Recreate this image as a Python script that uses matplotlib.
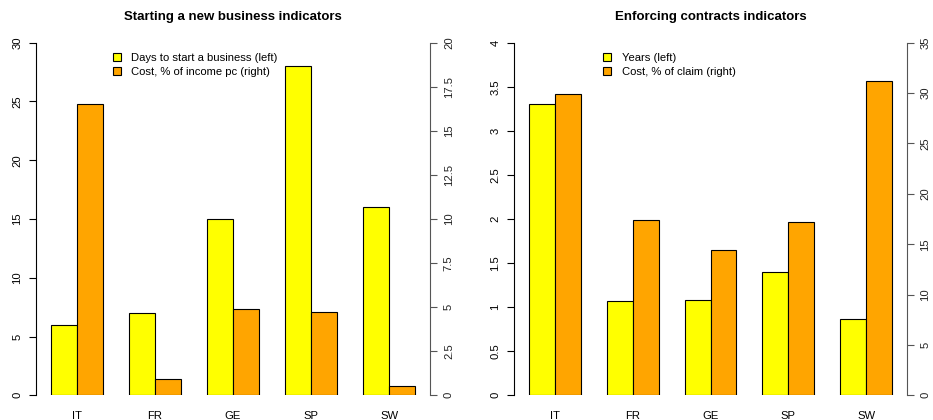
import numpy as np
import matplotlib
matplotlib.use("Agg")
import matplotlib.pyplot as plt
from matplotlib.patches import Patch

plt.rcParams['font.family'] = ['Liberation Sans', 'DejaVu Sans']

countries = ['IT', 'FR', 'GE', 'SP', 'SW']

# Starting a new business
days = [6, 7, 15, 28, 16]
cost_income = [16.5, 0.9, 4.9, 4.7, 0.5]

# Enforcing contracts
years = [3.31, 1.07, 1.08, 1.40, 0.86]
cost_claim = [29.9, 17.4, 14.4, 17.2, 31.2]

YELLOW = '#FFFF00'
ORANGE = '#FFA500'
FS = 8.1


def fmt(v):
    return f'{v:g}'


def panel(rect, left_vals, right_vals, left_max, left_step, right_max, right_step,
          title, labels, leg_x):
    ax = fig.add_axes(rect)
    ax2 = ax.twinx()
    n = len(countries)
    starts = 1 + 3 * np.arange(n)
    ax.bar(starts, left_vals, width=1, align='edge', color=YELLOW,
           edgecolor='black', linewidth=0.8)
    ax2.bar(starts + 1, right_vals, width=1, align='edge', color=ORANGE,
            edgecolor='black', linewidth=0.8)
    ax.set_xlim(0.44, 15.56)
    ax.set_ylim(0, left_max)
    ax2.set_ylim(0, right_max)

    for a in (ax, ax2):
        a.spines['top'].set_visible(False)
        a.spines['bottom'].set_visible(False)
        a.patch.set_visible(False)
    ax.spines['right'].set_visible(False)
    ax2.spines['left'].set_visible(False)
    ax.spines['left'].set_bounds(0, left_max)
    ax2.spines['right'].set_bounds(0, right_max)
    ax.spines['left'].set_linewidth(0.8)
    ax2.spines['right'].set_linewidth(0.8)
    ax2.spines['right'].set_color('#555555')

    lt = np.arange(0, left_max + left_step / 2, left_step)
    rt = np.arange(0, right_max + right_step / 2, right_step)
    ax.set_yticks(lt, [fmt(v) for v in lt])
    ax2.set_yticks(rt, [fmt(v) for v in rt])
    ax.tick_params(axis='y', length=5, width=0.8, pad=5, labelsize=FS,
                   labelrotation=90)
    ax2.tick_params(axis='y', length=5, width=0.8, pad=5, labelsize=FS,
                    labelrotation=90, color='#555555', labelcolor='#222222')
    for t in ax.get_yticklabels() + ax2.get_yticklabels():
        t.set_va('center')

    ax.set_xticks(starts + 1, countries)
    ax.tick_params(axis='x', length=0, pad=11, labelsize=FS)

    ax.set_title(title, fontsize=9.5, fontweight='bold', pad=16)

    handles = [Patch(facecolor=YELLOW, edgecolor='black', linewidth=0.8),
               Patch(facecolor=ORANGE, edgecolor='black', linewidth=0.8)]
    ax2.legend(handles, labels, loc='upper left', bbox_to_anchor=(leg_x, 0.971),
               frameon=False, fontsize=FS, handlelength=0.75, handleheight=0.75,
               handletextpad=0.9, labelspacing=0.33, borderpad=0, borderaxespad=0)


fig = plt.figure(figsize=(9.33, 4.2), dpi=100)

panel([36 / 933, 0.0588, 394 / 933, 0.8395], days, cost_income, 30, 5, 20, 2.5,
      'Starting a new business indicators',
      ['Days to start a business (left)', 'Cost, % of income pc (right)'], 0.195)
panel([514.3 / 933, 0.0588, 392.4 / 933, 0.8395], years, cost_claim, 4, 0.5, 35, 5,
      'Enforcing contracts indicators',
      ['Years (left)', 'Cost, % of claim (right)'], 0.226)

fig.savefig('out.png', dpi=100)
